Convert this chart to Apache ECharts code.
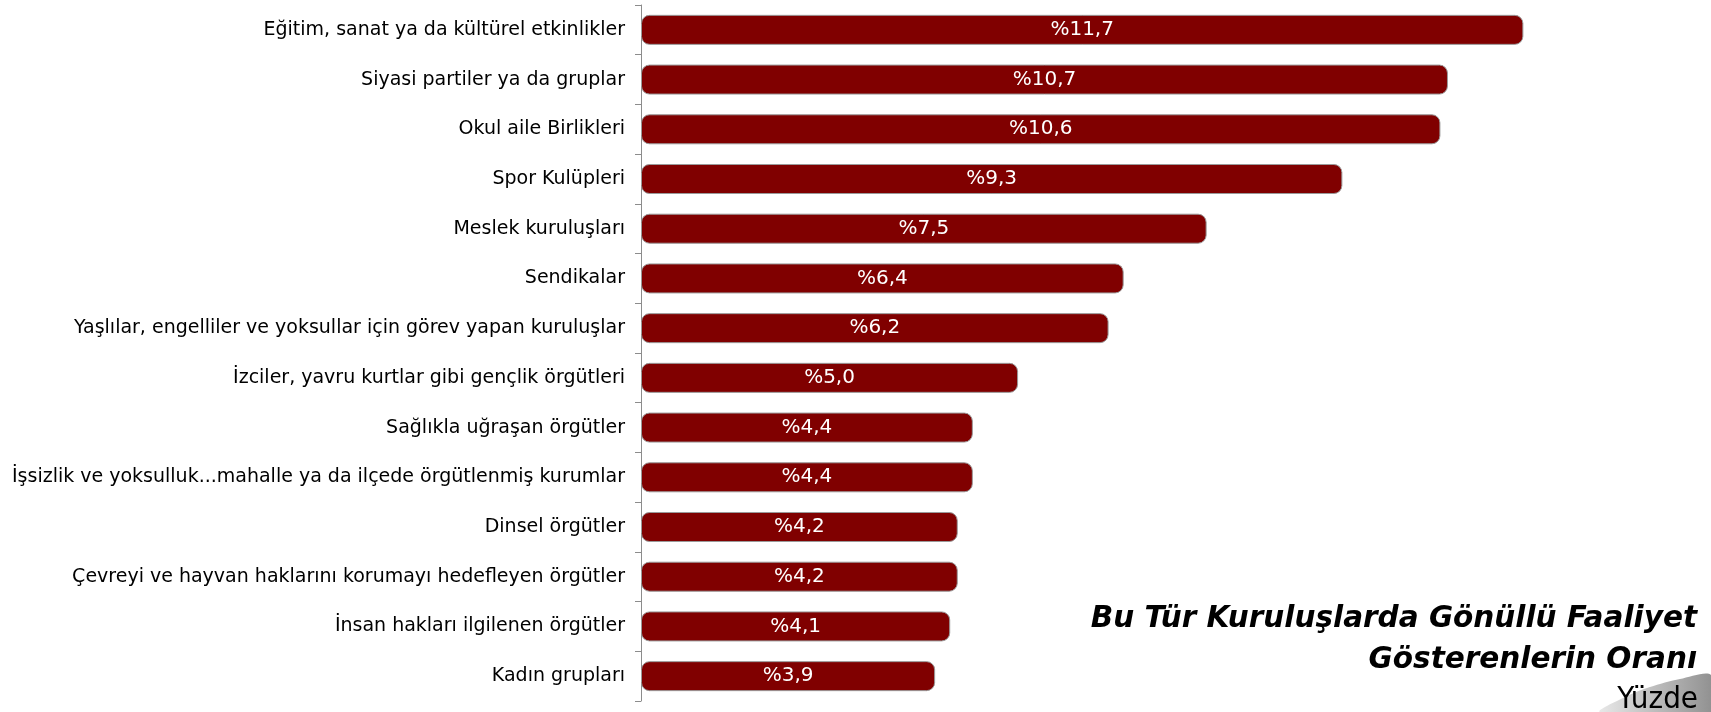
<!DOCTYPE html>
<html>
<head>
<meta charset="utf-8">
<script src="https://cdn.jsdelivr.net/npm/echarts@6/dist/echarts.min.js"></script>
<style>
html,body{margin:0;padding:0;background:#fff;}
#main{width:1711px;height:712px;}
</style>
</head>
<body>
<div id="main"></div>
<script>
// kategoriler (ustten alta)
var kategoriler = [
    'Eğitim, sanat ya da kültürel etkinlikler',
    'Siyasi partiler ya da gruplar',
    'Okul aile Birlikleri',
    'Spor Kulüpleri',
    'Meslek kuruluşları',
    'Sendikalar',
    'Yaşlılar, engelliler ve yoksullar için görev yapan kuruluşlar',
    'İzciler, yavru kurtlar gibi gençlik örgütleri',
    'Sağlıkla uğraşan örgütler',
    'İşsizlik ve yoksulluk...mahalle ya da ilçede örgütlenmiş kurumlar',
    'Dinsel örgütler',
    'Çevreyi ve hayvan haklarını korumayı hedefleyen örgütler',
    'İnsan hakları ilgilenen örgütler',
    'Kadın grupları'
];
// yuzde degerleri
var degerler = [11.7, 10.7, 10.6, 9.3, 7.5, 6.4, 6.2, 5.0, 4.4, 4.4, 4.2, 4.2, 4.1, 3.9];

var baslik1 = 'Bu Tür Kuruluşlarda Gönüllü Faaliyet';
var baslik2 = 'Gösterenlerin Oranı';
var birim = 'Yüzde';

var yazi = '"DejaVu Sans", sans-serif';
var dar = '"DejaVu Sans Condensed", "DejaVu Sans", sans-serif';

var myChart = echarts.init(document.getElementById('main'));
option = {
    backgroundColor: '#fff',
    animation: false,
    grid: {left: 641, right: 165, top: 5, bottom: 11},
    xAxis: {
        type: 'value',
        min: 0,
        max: 12,
        show: false
    },
    yAxis: {
        type: 'category',
        inverse: true,
        data: kategoriler,
        axisLine: {show: true, lineStyle: {color: '#8c8c8c', width: 1}},
        axisTick: {show: true, length: 6, lineStyle: {color: '#8c8c8c'}},
        axisLabel: {color: '#000', fontFamily: yazi, fontSize: 19, margin: 16}
    },
    graphic: [
        {
            type: 'polygon',
            silent: true,
            shape: {
                points: [[1600, 712], [1625, 697], [1650, 687], [1680, 679], [1711, 675], [1711, 712]],
                smooth: 0.3
            },
            style: {
                fill: {
                    type: 'linear', x: 0, y: 0, x2: 1, y2: 0,
                    colorStops: [{offset: 0, color: '#e8e8e8'}, {offset: 1, color: '#8e8e8e'}]
                }
            }
        },
        {
            type: 'text', right: 14, top: 604,
            style: {text: baslik1, fill: '#000', font: 'italic bold 29.5px "DejaVu Sans", sans-serif', textAlign: 'right'}
        },
        {
            type: 'text', right: 14, top: 645,
            style: {text: baslik2, fill: '#000', font: 'italic bold 29.5px "DejaVu Sans", sans-serif', textAlign: 'right'}
        },
        {
            type: 'text', right: 13, top: 684,
            style: {text: birim, fill: '#000', font: '31px ' + dar, textAlign: 'right'}
        }
    ],
    series: [{
        name: 'Oran',
        type: 'bar',
        barWidth: 30,
        data: degerler,
        itemStyle: {color: '#800000', borderColor: '#9a9a9a', borderWidth: 1, borderRadius: 8},
        label: {
            show: true,
            position: 'inside',
            color: '#fff',
            fontFamily: yazi,
            fontSize: 20,
            formatter: function (p) { return '%' + p.value.toFixed(1).replace('.', ','); }
        }
    }]
};
myChart.setOption(option);
</script>
</body>
</html>
